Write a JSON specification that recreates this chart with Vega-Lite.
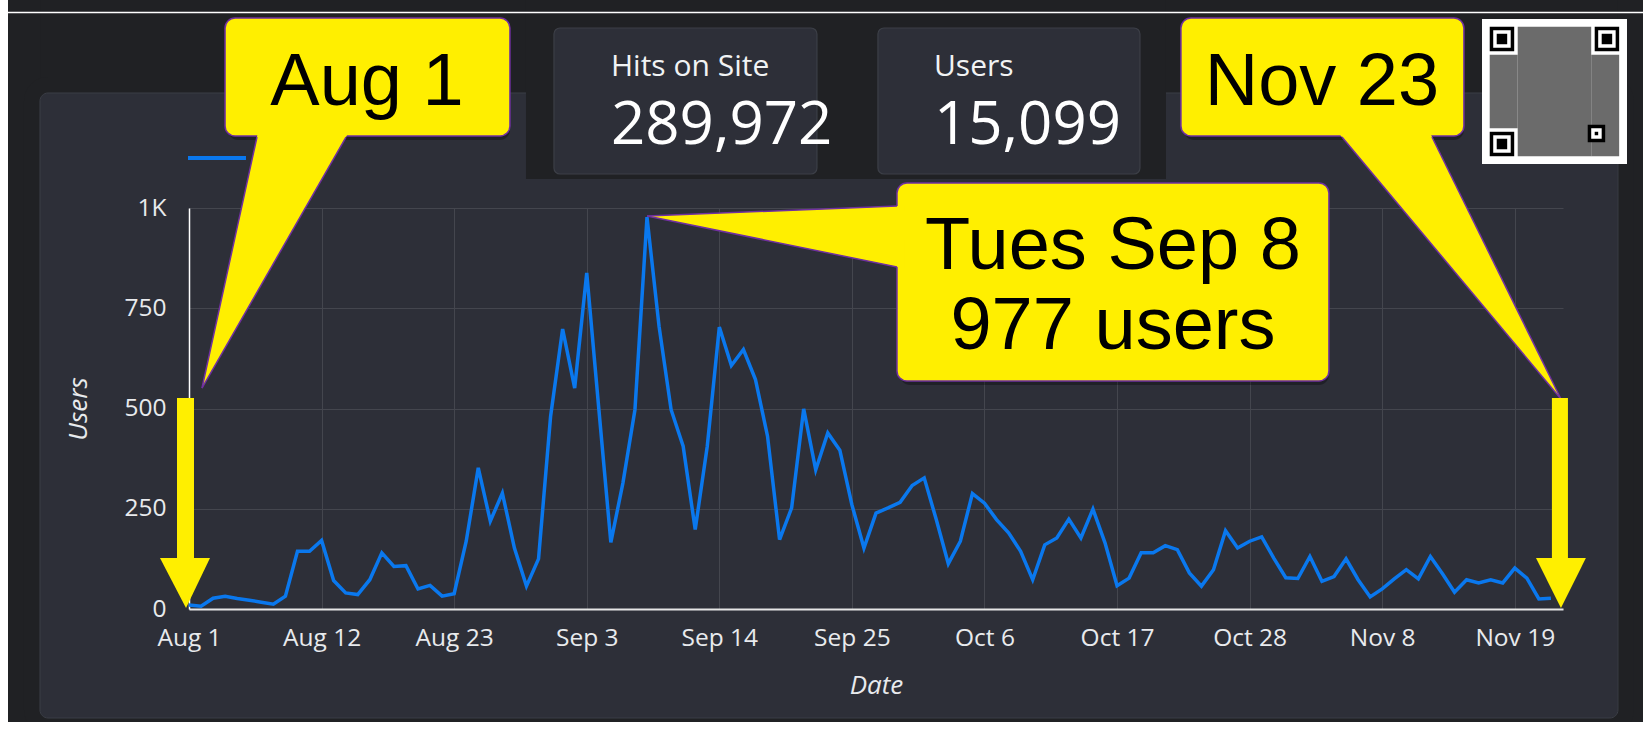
{
  "$schema": "https://vega.github.io/schema/vega-lite/v6.json",
  "width": 1374,
  "height": 401,
  "autosize": {"type": "none"},
  "padding": {"left": 189, "top": 208, "right": 80, "bottom": 123},
  "background": "#2d2f38",
  "config": {
    "view": {"stroke": null},
    "font": "Open Sans",
    "axis": {
      "gridColor": "#44464e", "gridWidth": 1, "ticks": false,
      "labelColor": "#e8eaed", "labelFont": "Open Sans", "labelFontSize": 24.5,
      "titleColor": "#e8eaed", "titleFont": "Open Sans", "titleFontStyle": "italic", "titleFontWeight": "normal", "titleFontSize": 26,
      "domainColor": "#ffffff"
    },
    "axisX": {"labelPadding": 17, "titlePadding": 23, "domainWidth": 2, "domainColor": "#e6e6e6"},
    "axisY": {"labelPadding": 23, "titlePadding": 32, "domainWidth": 1.5}
  },
  "encoding": {
    "x": {"field": "x", "type": "temporal", "title": "Date",
      "scale": {"domain": [{"year": 2020, "month": "aug", "date": 1}, {"year": 2020, "month": "nov", "date": 23}], "nice": false},
      "axis": {"format": "%b %-d", "labelOverlap": false, "labelFlush": false,
        "values": [
          {"year": 2020, "month": "aug", "date": 1}, {"year": 2020, "month": "aug", "date": 12}, {"year": 2020, "month": "aug", "date": 23},
          {"year": 2020, "month": "sep", "date": 3}, {"year": 2020, "month": "sep", "date": 14}, {"year": 2020, "month": "sep", "date": 25},
          {"year": 2020, "month": "oct", "date": 6}, {"year": 2020, "month": "oct", "date": 17}, {"year": 2020, "month": "oct", "date": 28},
          {"year": 2020, "month": "nov", "date": 8}, {"year": 2020, "month": "nov", "date": 19}]}},
    "y": {"field": "y", "type": "quantitative", "title": "Users",
      "scale": {"domain": [0, 1000], "nice": false},
      "axis": {"values": [0, 250, 500, 750, 1000], "labelExpr": "datum.value >= 1000 ? '1K' : datum.label"}}
  },
  "datasets": {
    "users": [
      {"x": "2020-08-01T00:00", "y": 10}, {"x": "2020-08-02T00:00", "y": 7}, {"x": "2020-08-03T00:00", "y": 27}, {"x": "2020-08-04T00:00", "y": 32},
      {"x": "2020-08-05T00:00", "y": 26}, {"x": "2020-08-06T00:00", "y": 22}, {"x": "2020-08-07T00:00", "y": 17}, {"x": "2020-08-08T00:00", "y": 12},
      {"x": "2020-08-09T00:00", "y": 32}, {"x": "2020-08-10T00:00", "y": 144}, {"x": "2020-08-11T00:00", "y": 144}, {"x": "2020-08-12T00:00", "y": 171},
      {"x": "2020-08-13T00:00", "y": 71}, {"x": "2020-08-14T00:00", "y": 40}, {"x": "2020-08-15T00:00", "y": 36}, {"x": "2020-08-16T00:00", "y": 73},
      {"x": "2020-08-17T00:00", "y": 140}, {"x": "2020-08-18T00:00", "y": 106}, {"x": "2020-08-19T00:00", "y": 108}, {"x": "2020-08-20T00:00", "y": 50},
      {"x": "2020-08-21T00:00", "y": 59}, {"x": "2020-08-22T00:00", "y": 32}, {"x": "2020-08-23T00:00", "y": 38}, {"x": "2020-08-24T00:00", "y": 169},
      {"x": "2020-08-25T00:00", "y": 352}, {"x": "2020-08-26T00:00", "y": 219}, {"x": "2020-08-27T00:00", "y": 289}, {"x": "2020-08-28T00:00", "y": 152},
      {"x": "2020-08-29T00:00", "y": 57}, {"x": "2020-08-30T00:00", "y": 125}, {"x": "2020-08-31T00:00", "y": 480}, {"x": "2020-09-01T00:00", "y": 698},
      {"x": "2020-09-02T00:00", "y": 551}, {"x": "2020-09-03T00:00", "y": 838}, {"x": "2020-09-04T00:00", "y": 500}, {"x": "2020-09-05T00:00", "y": 166},
      {"x": "2020-09-06T00:00", "y": 314}, {"x": "2020-09-07T00:00", "y": 497}, {"x": "2020-09-08T00:00", "y": 977}, {"x": "2020-09-09T00:00", "y": 705},
      {"x": "2020-09-10T00:00", "y": 497}, {"x": "2020-09-11T00:00", "y": 406}, {"x": "2020-09-12T00:00", "y": 198}, {"x": "2020-09-13T00:00", "y": 406},
      {"x": "2020-09-14T00:00", "y": 703}, {"x": "2020-09-15T00:00", "y": 607}, {"x": "2020-09-16T00:00", "y": 647}, {"x": "2020-09-17T00:00", "y": 572},
      {"x": "2020-09-18T00:00", "y": 431}, {"x": "2020-09-19T00:00", "y": 173}, {"x": "2020-09-20T00:00", "y": 252}, {"x": "2020-09-21T00:00", "y": 499},
      {"x": "2020-09-22T00:00", "y": 347}, {"x": "2020-09-23T00:00", "y": 439}, {"x": "2020-09-24T00:00", "y": 396}, {"x": "2020-09-25T00:00", "y": 260},
      {"x": "2020-09-26T00:00", "y": 152}, {"x": "2020-09-27T00:00", "y": 239}, {"x": "2020-09-28T00:00", "y": 252}, {"x": "2020-09-29T00:00", "y": 266},
      {"x": "2020-09-30T00:00", "y": 308}, {"x": "2020-10-01T00:00", "y": 327}, {"x": "2020-10-02T00:00", "y": 223}, {"x": "2020-10-03T00:00", "y": 113},
      {"x": "2020-10-04T00:00", "y": 169}, {"x": "2020-10-05T00:00", "y": 288}, {"x": "2020-10-06T00:00", "y": 264}, {"x": "2020-10-07T00:00", "y": 223},
      {"x": "2020-10-08T00:00", "y": 190}, {"x": "2020-10-09T00:00", "y": 144}, {"x": "2020-10-10T00:00", "y": 73}, {"x": "2020-10-11T00:00", "y": 160},
      {"x": "2020-10-12T00:00", "y": 177}, {"x": "2020-10-13T00:00", "y": 224}, {"x": "2020-10-14T00:00", "y": 177}, {"x": "2020-10-15T00:00", "y": 249},
      {"x": "2020-10-16T00:00", "y": 165}, {"x": "2020-10-17T00:00", "y": 58}, {"x": "2020-10-18T00:00", "y": 77}, {"x": "2020-10-19T00:00", "y": 140},
      {"x": "2020-10-20T00:00", "y": 140}, {"x": "2020-10-21T00:00", "y": 158}, {"x": "2020-10-22T00:00", "y": 148}, {"x": "2020-10-23T00:00", "y": 90},
      {"x": "2020-10-24T00:00", "y": 57}, {"x": "2020-10-25T00:00", "y": 98}, {"x": "2020-10-26T00:00", "y": 195}, {"x": "2020-10-27T00:00", "y": 152},
      {"x": "2020-10-28T00:00", "y": 169}, {"x": "2020-10-29T00:00", "y": 180}, {"x": "2020-10-30T00:00", "y": 127}, {"x": "2020-10-31T00:00", "y": 78},
      {"x": "2020-11-01T00:00", "y": 76}, {"x": "2020-11-02T00:00", "y": 131}, {"x": "2020-11-03T00:00", "y": 69}, {"x": "2020-11-04T00:00", "y": 81},
      {"x": "2020-11-05T00:00", "y": 125}, {"x": "2020-11-06T00:00", "y": 73}, {"x": "2020-11-07T00:00", "y": 30}, {"x": "2020-11-08T00:00", "y": 50},
      {"x": "2020-11-09T00:00", "y": 75}, {"x": "2020-11-10T00:00", "y": 98}, {"x": "2020-11-11T00:00", "y": 75}, {"x": "2020-11-12T00:00", "y": 131},
      {"x": "2020-11-13T00:00", "y": 88}, {"x": "2020-11-14T00:00", "y": 42}, {"x": "2020-11-15T00:00", "y": 73}, {"x": "2020-11-16T00:00", "y": 65},
      {"x": "2020-11-17T00:00", "y": 73}, {"x": "2020-11-18T00:00", "y": 65}, {"x": "2020-11-19T00:00", "y": 102}, {"x": "2020-11-20T00:00", "y": 77},
      {"x": "2020-11-21T00:00", "y": 25}, {"x": "2020-11-22T00:00", "y": 27}
    ],
    "frame": [
      {"x": "2020-07-01T00:00", "x2": "2020-12-15T00:00", "y": 1286.8, "y2": 1700},
      {"x": "2020-07-01T00:00", "x2": "2020-12-15T00:00", "y": -271.8, "y2": -400},
      {"x": "2020-07-01T00:00", "x2": "2020-07-19T15:19", "y": -400, "y2": 1700},
      {"x": "2020-11-27T13:26", "x2": "2020-12-15T00:00", "y": -400, "y2": 1700}
    ],
    "corner": [{"x": "2020-07-18T23:22", "x2": "2020-11-28T05:17", "y": -291.8, "y2": 1306.7}],
    "card": [{"x": "2020-07-19T15:19", "x2": "2020-11-27T13:26", "y": -271.8, "y2": 1286.8}],
    "kpipatch": [{"x": "2020-08-28T23:03", "x2": "2020-10-21T01:26", "y": 1072.3, "y2": 1600}],
    "white": [
      {"x": "2020-07-01T00:00", "x2": "2020-07-16T23:35", "y": -400, "y2": 1700},
      {"x": "2020-07-01T00:00", "x2": "2020-12-15T00:00", "y": -281.8, "y2": -400}
    ],
    "topline": [{"x": "2020-07-16T23:35", "x2": "2020-12-15T00:00", "y": 1487.5}],
    "kpicards": [
      {"x": "2020-08-31T06:44", "x2": "2020-09-22T02:24", "y": 1084.8, "y2": 1448.9},
      {"x": "2020-09-27T03:50", "x2": "2020-10-18T21:36", "y": 1084.8, "y2": 1448.9}
    ],
    "kpilabels": [
      {"x": "2020-09-05T00:15", "y": 1330.2, "t": "Hits on Site"},
      {"x": "2020-10-01T19:26", "y": 1330.2, "t": "Users"}
    ],
    "kpivalues": [
      {"x": "2020-09-05T00:15", "y": 1160.6, "t": "289,972"},
      {"x": "2020-10-01T19:26", "y": 1160.6, "t": "15,099"}
    ],
    "legend": [{"x": "2020-07-31T22:00", "x2": "2020-08-05T17:30", "y": 1124.7}],
    "boxes": [
      {"x": "2020-08-03T23:46", "x2": "2020-08-27T15:06", "y": 1179.6, "y2": 1473.8},
      {"x": "2020-10-22T07:12", "x2": "2020-11-14T18:43", "y": 1179.6, "y2": 1473.8},
      {"x": "2020-09-28T17:45", "x2": "2020-11-03T13:55", "y": 568.6, "y2": 1062.3}
    ],
    "pointers": [
      {"g": "a", "x": "2020-08-02T01:53", "y": 551.1, "y2": 551.1},
      {"g": "a", "x": "2020-08-06T18:23", "y": 1194.5, "y2": 796.8},
      {"g": "a", "x": "2020-08-14T08:36", "y": 1194.5, "y2": 1194.5},
      {"g": "b", "x": "2020-11-04T04:05", "y": 1194.5, "y2": 1194.5},
      {"g": "b", "x": "2020-11-11T20:24", "y": 1194.5, "y2": 918.7},
      {"g": "b", "x": "2020-11-22T19:55", "y": 523.7, "y2": 523.7},
      {"g": "c", "x": "2020-09-08T00:00", "y": 980, "y2": 980},
      {"g": "c", "x": "2020-09-29T09:36", "y": 1005.7, "y2": 848.9}
    ],
    "edges": [
      {"x": "2020-08-06T15:22", "y": 1177, "x2": "2020-08-02T01:53", "y2": 551.1},
      {"x": "2020-08-14T00:43", "y": 1177, "x2": "2020-08-02T01:53", "y2": 551.1},
      {"x": "2020-11-04T15:50", "y": 1177, "x2": "2020-11-22T19:55", "y2": 523.7},
      {"x": "2020-11-12T03:07", "y": 1177, "x2": "2020-11-22T19:55", "y2": 523.7},
      {"x": "2020-09-28T17:45", "y": 1005, "x2": "2020-09-08T00:00", "y2": 980},
      {"x": "2020-09-28T17:45", "y": 852.9, "x2": "2020-09-08T00:00", "y2": 980}
    ],
    "shafts": [
      {"x": "2020-07-31T00:06", "x2": "2020-08-01T09:57", "y": 122.2, "y2": 526.2},
      {"x": "2020-11-22T01:55", "x2": "2020-11-23T09:50", "y": 122.2, "y2": 526.2}
    ],
    "heads": [
      {"g": "L", "x": "2020-07-29T14:15", "y": 127.2, "y2": 127.2},
      {"g": "L", "x": "2020-07-31T18:02", "y": 127.2, "y2": 2.5},
      {"g": "L", "x": "2020-08-02T17:49", "y": 127.2, "y2": 127.2},
      {"g": "R", "x": "2020-11-20T18:14", "y": 127.2, "y2": 127.2},
      {"g": "R", "x": "2020-11-22T19:55", "y": 127.2, "y2": 2.5},
      {"g": "R", "x": "2020-11-24T21:36", "y": 127.2, "y2": 127.2}
    ],
    "callouttext": [
      {"x": "2020-08-15T18:27", "y": 1257.4, "t": "Aug 1"},
      {"x": "2020-11-03T00:00", "y": 1257.4, "t": "Nov 23"},
      {"x": "2020-10-16T15:50", "y": 847.9, "t": "Tues Sep 8"},
      {"x": "2020-10-16T15:50", "y": 648.4, "t": "977 users"}
    ],
    "qrwhite": [{"x": "2020-11-16T06:43", "x2": "2020-11-28T07:26", "y": 1109.7, "y2": 1471.3}],
    "qrgrey": [
      {"x": "2020-11-19T05:50", "x2": "2020-11-25T08:10", "y": 1129.1, "y2": 1452.0},
      {"x": "2020-11-16T22:05", "x2": "2020-11-19T05:50", "y": 1198.9, "y2": 1382.2},
      {"x": "2020-11-25T08:10", "x2": "2020-11-27T15:50", "y": 1129.1, "y2": 1382.2}
    ],
    "qrouter": [
      {"x": "2020-11-16T22:05", "x2": "2020-11-18T22:50", "y": 1390.9, "y2": 1452.0},
      {"x": "2020-11-25T15:07", "x2": "2020-11-27T15:50", "y": 1390.9, "y2": 1452.0},
      {"x": "2020-11-16T22:05", "x2": "2020-11-18T22:50", "y": 1129.1, "y2": 1190.1},
      {"x": "2020-11-25T01:12", "x2": "2020-11-26T12:00", "y": 1164.0, "y2": 1207.6}
    ],
    "qrinner": [
      {"x": "2020-11-17T05:02", "x2": "2020-11-18T15:52", "y": 1399.6, "y2": 1443.3},
      {"x": "2020-11-25T22:05", "x2": "2020-11-27T08:52", "y": 1399.6, "y2": 1443.3},
      {"x": "2020-11-17T05:02", "x2": "2020-11-18T15:52", "y": 1137.8, "y2": 1181.4},
      {"x": "2020-11-25T08:10", "x2": "2020-11-26T05:02", "y": 1172.7, "y2": 1198.9}
    ],
    "qrcenter": [
      {"x": "2020-11-17T12:00", "x2": "2020-11-18T08:52", "y": 1408.4, "y2": 1434.5},
      {"x": "2020-11-26T05:02", "x2": "2020-11-27T01:55", "y": 1408.4, "y2": 1434.5},
      {"x": "2020-11-17T12:00", "x2": "2020-11-18T08:52", "y": 1146.5, "y2": 1172.7},
      {"x": "2020-11-25T15:07", "x2": "2020-11-25T22:05", "y": 1181.4, "y2": 1190.1}
    ]
  },
  "layer": [
    {"data": {"name": "frame", "format": {"parse": {"x": "date", "x2": "date"}}},
     "mark": {"type": "rect", "fill": "#202124"},
     "encoding": {"x2": {"field": "x2"}, "y2": {"field": "y2"}}},
    {"data": {"name": "corner", "format": {"parse": {"x": "date", "x2": "date"}}},
     "mark": {"type": "rect", "fill": "transparent", "stroke": "#202124", "strokeWidth": 16, "cornerRadius": 16},
     "encoding": {"x2": {"field": "x2"}, "y2": {"field": "y2"}}},
    {"data": {"name": "card", "format": {"parse": {"x": "date", "x2": "date"}}},
     "mark": {"type": "rect", "fill": "transparent", "stroke": "#3b3e46", "strokeWidth": 1, "cornerRadius": 8},
     "encoding": {"x2": {"field": "x2"}, "y2": {"field": "y2"}}},
    {"data": {"name": "kpipatch", "format": {"parse": {"x": "date", "x2": "date"}}},
     "mark": {"type": "rect", "fill": "#202124"},
     "encoding": {"x2": {"field": "x2"}, "y2": {"field": "y2"}}},
    {"data": {"name": "white", "format": {"parse": {"x": "date", "x2": "date"}}},
     "mark": {"type": "rect", "fill": "#ffffff"},
     "encoding": {"x2": {"field": "x2"}, "y2": {"field": "y2"}}},
    {"data": {"name": "topline", "format": {"parse": {"x": "date", "x2": "date"}}},
     "mark": {"type": "rule", "stroke": "#ffffff", "strokeWidth": 1.5},
     "encoding": {"x2": {"field": "x2"}}},
    {"data": {"name": "kpicards", "format": {"parse": {"x": "date", "x2": "date"}}},
     "mark": {"type": "rect", "fill": "#2d2f38", "stroke": "#3c3f47", "strokeWidth": 1.2, "cornerRadius": 6},
     "encoding": {"x2": {"field": "x2"}, "y2": {"field": "y2"}}},
    {"data": {"name": "kpilabels", "format": {"parse": {"x": "date"}}},
     "mark": {"type": "text", "align": "left", "baseline": "alphabetic", "font": "Open Sans", "fontSize": 30, "fill": "#f1f3f4"},
     "encoding": {"text": {"field": "t"}}},
    {"data": {"name": "kpivalues", "format": {"parse": {"x": "date"}}},
     "mark": {"type": "text", "align": "left", "baseline": "alphabetic", "font": "Open Sans", "fontSize": 60, "fill": "#ffffff"},
     "encoding": {"text": {"field": "t"}}},
    {"data": {"name": "legend", "format": {"parse": {"x": "date", "x2": "date"}}},
     "mark": {"type": "rule", "stroke": "#0a78ee", "strokeWidth": 4},
     "encoding": {"x2": {"field": "x2"}}},
    {"data": {"name": "users", "format": {"parse": {"x": "date"}}},
     "mark": {"type": "line", "stroke": "#0a78ee", "strokeWidth": 3.5},
     "encoding": {}},
    {"data": {"name": "boxes", "format": {"parse": {"x": "date", "x2": "date"}}},
     "mark": {"type": "rect", "fill": "#000000", "opacity": 0.3, "cornerRadius": 10, "xOffset": 3, "yOffset": 4},
     "encoding": {"x2": {"field": "x2"}, "y2": {"field": "y2"}}},
    {"data": {"name": "boxes", "format": {"parse": {"x": "date", "x2": "date"}}},
     "mark": {"type": "rect", "fill": "#ffef00", "stroke": "#7030a0", "strokeWidth": 1.5, "cornerRadius": 10},
     "encoding": {"x2": {"field": "x2"}, "y2": {"field": "y2"}}},
    {"data": {"name": "pointers", "format": {"parse": {"x": "date"}}},
     "mark": {"type": "area", "orient": "vertical", "fill": "#ffef00"},
     "encoding": {"y2": {"field": "y2"}, "detail": {"field": "g"}}},
    {"data": {"name": "edges", "format": {"parse": {"x": "date", "x2": "date"}}},
     "mark": {"type": "rule", "stroke": "#7030a0", "strokeWidth": 1.5},
     "encoding": {"x2": {"field": "x2"}, "y2": {"field": "y2"}}},
    {"data": {"name": "shafts", "format": {"parse": {"x": "date", "x2": "date"}}},
     "mark": {"type": "rect", "fill": "#ffef00"},
     "encoding": {"x2": {"field": "x2"}, "y2": {"field": "y2"}}},
    {"data": {"name": "heads", "format": {"parse": {"x": "date"}}},
     "mark": {"type": "area", "orient": "vertical", "fill": "#ffef00"},
     "encoding": {"y2": {"field": "y2"}, "detail": {"field": "g"}}},
    {"data": {"name": "callouttext", "format": {"parse": {"x": "date"}}},
     "mark": {"type": "text", "align": "center", "baseline": "alphabetic", "font": "Liberation Sans", "fontSize": 74, "fill": "#000000"},
     "encoding": {"text": {"field": "t"}}},
    {"data": {"name": "qrwhite", "format": {"parse": {"x": "date", "x2": "date"}}},
     "mark": {"type": "rect", "fill": "#ffffff"},
     "encoding": {"x2": {"field": "x2"}, "y2": {"field": "y2"}}},
    {"data": {"name": "qrgrey", "format": {"parse": {"x": "date", "x2": "date"}}},
     "mark": {"type": "rect", "fill": "#6b6b6b"},
     "encoding": {"x2": {"field": "x2"}, "y2": {"field": "y2"}}},
    {"data": {"name": "qrouter", "format": {"parse": {"x": "date", "x2": "date"}}},
     "mark": {"type": "rect", "fill": "#000000"},
     "encoding": {"x2": {"field": "x2"}, "y2": {"field": "y2"}}},
    {"data": {"name": "qrinner", "format": {"parse": {"x": "date", "x2": "date"}}},
     "mark": {"type": "rect", "fill": "#ffffff"},
     "encoding": {"x2": {"field": "x2"}, "y2": {"field": "y2"}}},
    {"data": {"name": "qrcenter", "format": {"parse": {"x": "date", "x2": "date"}}},
     "mark": {"type": "rect", "fill": "#000000"},
     "encoding": {"x2": {"field": "x2"}, "y2": {"field": "y2"}}}
  ]
}
